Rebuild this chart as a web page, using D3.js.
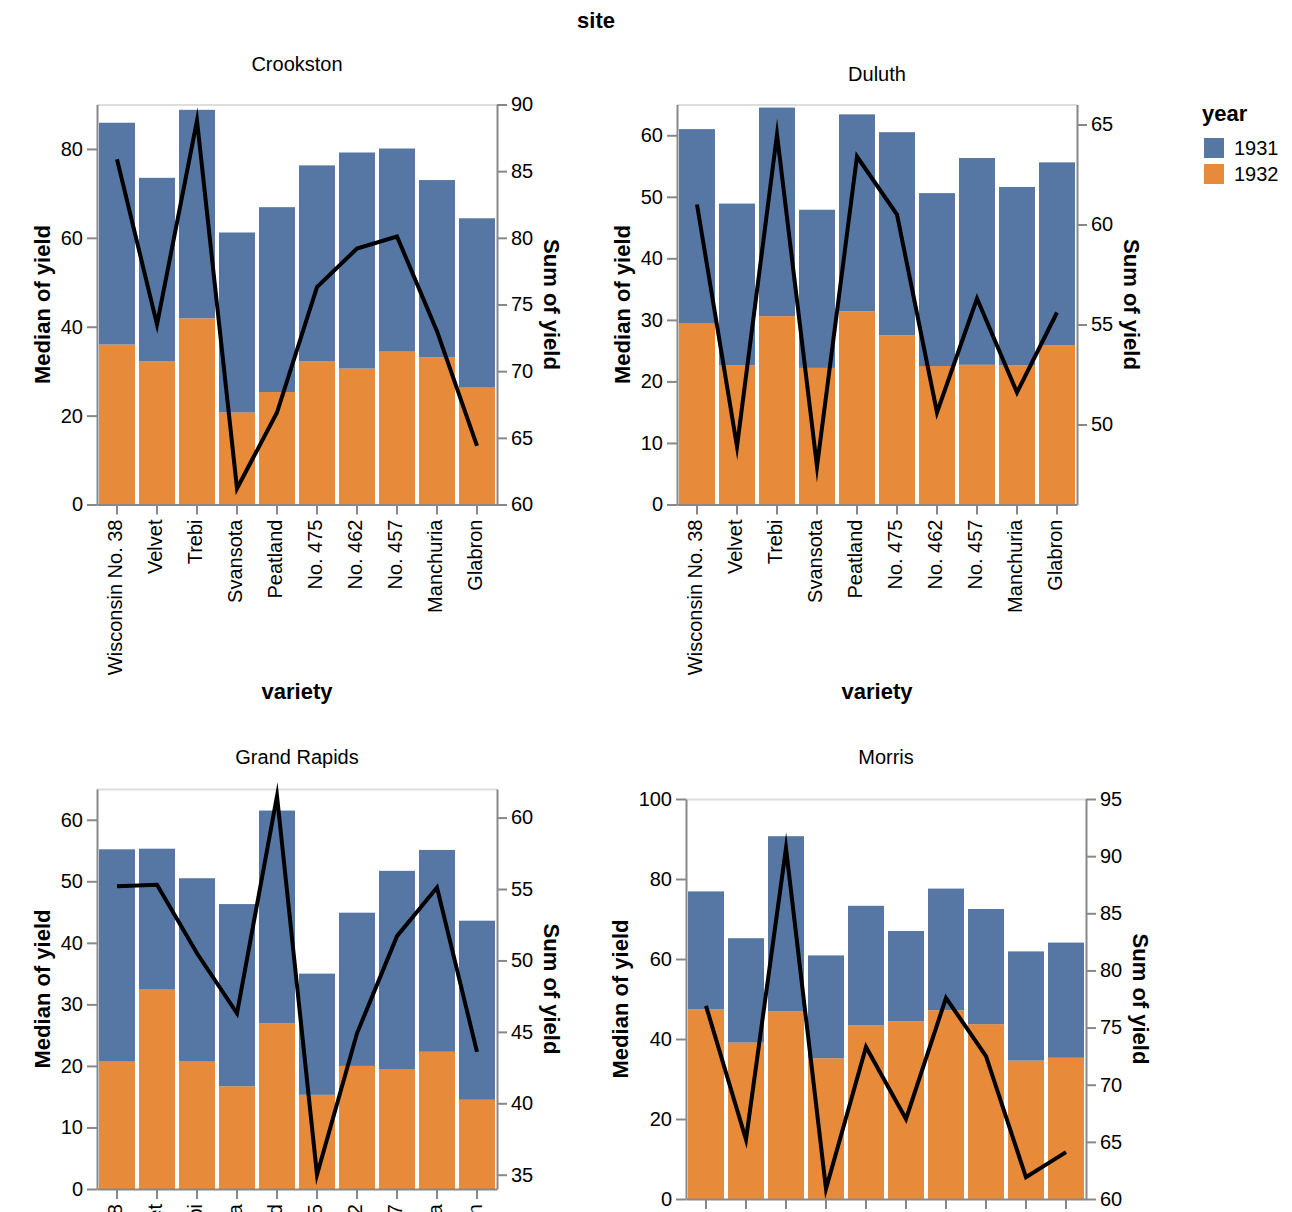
<!DOCTYPE html>
<html lang="en">
<head>
<meta charset="utf-8">
<script src="https://d3js.org/d3.v7.min.js"></script>
<style>
  body { margin: 0; overflow: hidden; background: #fff; }
  svg text { font-family: "Liberation Sans", Arial, Helvetica, sans-serif; }
</style>
</head>
<body>
<div id="chart"></div>
<script>
// barley yields (one value per variety, same order as varieties)
const varieties = ["Wisconsin No. 38", "Velvet", "Trebi", "Svansota", "Peatland",
                   "No. 475", "No. 462", "No. 457", "Manchuria", "Glabron"];
const years = ["1931", "1932"];
const sites = ["Crookston", "Duluth", "Grand Rapids", "Morris"];

const crookston1931 = [49.9, 41.3, 46.9, 40.5, 41.6, 44.1, 48.6, 45.7, 39.9, 38.1];
const crookston1932 = [36.0, 32.2, 41.9, 20.7, 25.3, 32.2, 30.6, 34.4, 33.1, 26.3];
const duluth1931 = [31.6, 26.3, 33.9, 25.7, 32.0, 33.0, 28.1, 33.6, 29.0, 29.7];
const duluth1932 = [29.4, 22.6, 30.6, 22.2, 31.4, 27.5, 22.5, 22.7, 22.6, 25.9];
const grandRapids1931 = [34.5, 22.9, 29.8, 29.6, 34.6, 19.7, 24.9, 32.2, 32.8, 29.1];
const grandRapids1932 = [20.7, 32.4, 20.7, 16.7, 26.9, 15.3, 20.0, 19.5, 22.3, 14.5];
const morris1931 = [29.5, 26.1, 43.8, 25.7, 29.9, 22.6, 30.4, 28.8, 27.3, 28.8];
const morris1932 = [47.4, 39.1, 46.9, 35.2, 43.4, 44.4, 47.2, 43.7, 34.6, 35.3];

const yieldsBySite = {
  "Crookston": [crookston1931, crookston1932],
  "Duluth": [duluth1931, duluth1932],
  "Grand Rapids": [grandRapids1931, grandRapids1932],
  "Morris": [morris1931, morris1932]
};

const color = d3.scaleOrdinal().domain(years).range(["#5677a4", "#e78a3a"]);

// where each facet cell sits on the page
const layout = {
  "Crookston":    {x: 97,  y: 104.5, headerY: 70.5},
  "Duluth":       {x: 677, y: 104.5, headerY: 80.5},
  "Grand Rapids": {x: 97,  y: 789,   headerY: 764},
  "Morris":       {x: 686, y: 799,   headerY: 764}
};

const W = 400, H = 400;
const axisGrey = "#888";

const svg = d3.select("#chart").append("svg")
  .attr("width", 1292)
  .attr("height", 1450);

svg.append("text")
  .attr("x", 596).attr("y", 28)
  .attr("text-anchor", "middle")
  .style("font-size", "22px").style("font-weight", "bold")
  .text("site");

function styleAxis(g) {
  g.select(".domain").attr("stroke", axisGrey).attr("stroke-width", 2);
  g.selectAll(".tick line").attr("stroke", axisGrey).attr("stroke-width", 2);
  g.selectAll(".tick text").attr("fill", "#000").style("font-size", "20px");
}

sites.forEach(site => {
  const pos = layout[site];
  const [y31, y32] = yieldsBySite[site];

  const rows = varieties.map((v, i) => ({variety: v, "1931": y31[i], "1932": y32[i]}));
  // sum of yield over both years (what the line shows)
  rows.forEach(r => { r.total = d3.sum(years, k => r[k]); });

  const x = d3.scaleBand()
    .domain(varieties)
    .range([0, W])
    .paddingInner(0.1)
    .paddingOuter(0.05);

  const yMedian = d3.scaleLinear()
    .domain([0, d3.max(rows, d => d.total)])
    .nice()
    .range([H, 0]);

  const ySum = d3.scaleLinear()
    .domain(d3.extent(rows, d => d.total))
    .nice()
    .range([H, 0]);

  const g = svg.append("g").attr("transform", "translate(" + pos.x + "," + pos.y + ")");

  // facet header
  g.append("text")
    .attr("x", W / 2).attr("y", pos.headerY - pos.y)
    .attr("text-anchor", "middle")
    .style("font-size", "20px")
    .text(site);

  // light frame on top of the view
  g.append("line")
    .attr("x1", 0).attr("x2", W).attr("y1", 0.5).attr("y2", 0.5)
    .attr("stroke", "#ddd").attr("stroke-width", 2);

  // stacked bars, 1932 at the bottom
  const stacked = d3.stack().keys(["1932", "1931"])(rows);
  g.selectAll("g.layer")
    .data(stacked)
    .join("g")
    .attr("class", "layer")
    .attr("fill", d => color(d.key))
    .selectAll("rect")
    .data(d => d)
    .join("rect")
    .attr("x", d => x(d.data.variety))
    .attr("width", x.bandwidth())
    .attr("y", d => yMedian(d[1]))
    .attr("height", d => yMedian(d[0]) - yMedian(d[1]));

  // x axis
  const xAxis = g.append("g")
    .attr("transform", "translate(0," + H + ")")
    .call(d3.axisBottom(x).tickSize(10).tickSizeOuter(0));
  styleAxis(xAxis);
  xAxis.selectAll(".tick text")
    .attr("transform", "rotate(-90)")
    .attr("text-anchor", "end")
    .attr("x", -15)
    .attr("y", 0)
    .attr("dy", "0.25em");

  g.append("text")
    .attr("x", W / 2).attr("y", H + 194)
    .attr("text-anchor", "middle")
    .style("font-size", "22px").style("font-weight", "bold")
    .text("variety");

  // left axis (median)
  const leftAxis = g.append("g")
    .call(d3.axisLeft(yMedian).ticks(5).tickSize(10).tickPadding(4).tickSizeOuter(0));
  styleAxis(leftAxis);
  const leftW = d3.max(leftAxis.selectAll(".tick text").nodes(), n => n.getComputedTextLength());
  const lx = -(14 + leftW + 11);
  g.append("text")
    .attr("transform", "translate(" + lx + "," + (H / 2) + ") rotate(-90)")
    .attr("text-anchor", "middle")
    .style("font-size", "22px").style("font-weight", "bold")
    .text("Median of yield");

  // right axis (sum)
  const rightAxis = g.append("g")
    .attr("transform", "translate(" + W + ",0)")
    .call(d3.axisRight(ySum).ticks(5).tickSize(10).tickPadding(4).tickSizeOuter(0));
  styleAxis(rightAxis);
  const rightW = d3.max(rightAxis.selectAll(".tick text").nodes(), n => n.getComputedTextLength());
  const rx = W + 14 + rightW + 11;
  g.append("text")
    .attr("transform", "translate(" + rx + "," + (H / 2) + ") rotate(90)")
    .attr("text-anchor", "middle")
    .style("font-size", "22px").style("font-weight", "bold")
    .text("Sum of yield");

  // sum line
  const line = d3.line()
    .x(d => x(d.variety) + x.bandwidth() / 2)
    .y(d => ySum(d.total));

  g.append("path")
    .datum(rows)
    .attr("d", line)
    .attr("fill", "none")
    .attr("stroke", "#000")
    .attr("stroke-width", 4)
    .attr("stroke-miterlimit", 10);
});

// legend
const legend = svg.append("g").attr("transform", "translate(1202,0)");
legend.append("text")
  .attr("x", 0).attr("y", 121)
  .style("font-size", "22px").style("font-weight", "bold")
  .text("year");

const item = legend.selectAll("g.item")
  .data(years)
  .join("g")
  .attr("class", "item")
  .attr("transform", (d, i) => "translate(0," + (148 + i * 26) + ")");

item.append("rect")
  .attr("x", 2).attr("y", -10)
  .attr("width", 20).attr("height", 20)
  .attr("fill", d => color(d));

item.append("text")
  .attr("x", 32).attr("y", 0)
  .attr("dy", "0.35em")
  .style("font-size", "20px")
  .text(d => d);
</script>
</body>
</html>
